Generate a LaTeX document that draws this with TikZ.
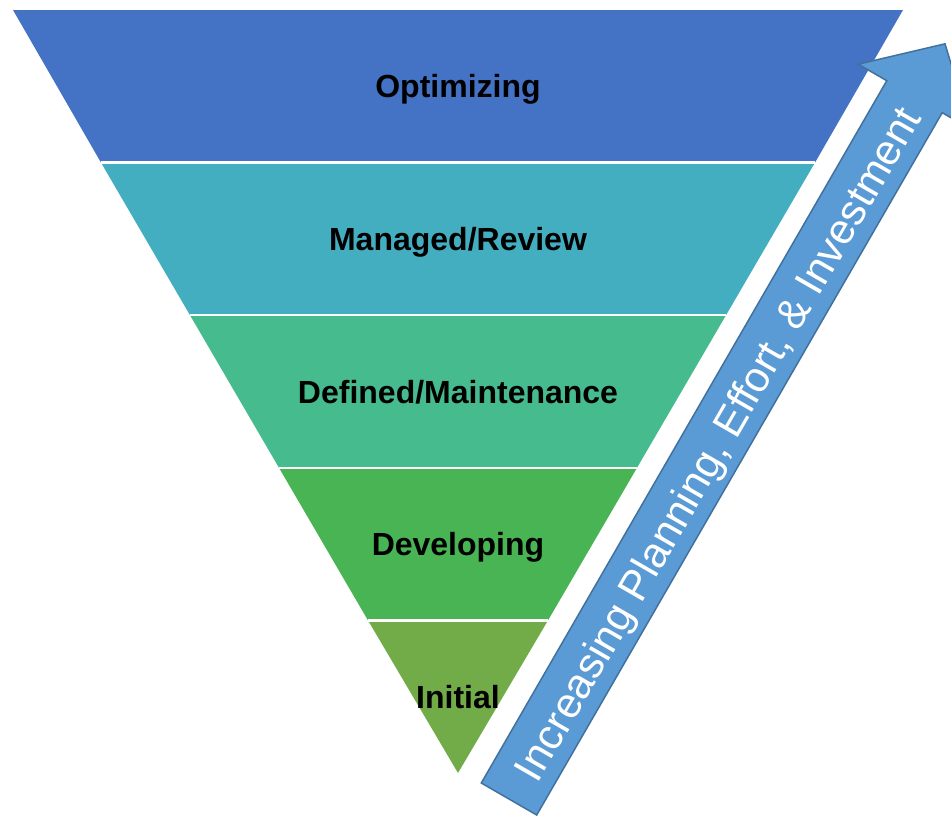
\documentclass[tikz,border=0pt]{standalone}
\usepackage{fontspec}
\setmainfont{Liberation Sans}
\definecolor{cOpt}{HTML}{4472C4}
\definecolor{cMan}{HTML}{44AEC1}
\definecolor{cDef}{HTML}{45BB8E}
\definecolor{cDev}{HTML}{48B453}
\definecolor{cIni}{HTML}{72AC48}
\definecolor{cArr}{HTML}{5B9BD5}
\definecolor{cArrB}{HTML}{41719C}
\tikzset{
  lab/.style={font=\bfseries\fontsize{32}{38}\selectfont, text=black, inner sep=0pt, anchor=base},
  arr/.style={fill=cArr, draw=cArrB, line width=1.5pt, line join=miter},
  arrtext/.style={font=\fontsize{42.5}{48}\selectfont, text=white, inner sep=0pt, rotate=60, anchor=base}
}
\begin{document}
\begin{tikzpicture}[x=1pt,y=-1pt]
\useasboundingbox (0,0) rectangle (951,815);
\clip (0,0) rectangle (951,815);
% bands
\coordinate (L0) at (13,10);   \coordinate (R0) at (903,10);
\coordinate (L1) at (101.0,162.6); \coordinate (R1) at (815.0,162.6);
\coordinate (L2) at (190.0,315.2); \coordinate (R2) at (726.0,315.2);
\coordinate (L3) at (279.0,467.8); \coordinate (R3) at (637.0,467.8);
\coordinate (L4) at (368.0,620.4); \coordinate (R4) at (548.0,620.4);
\coordinate (apex) at (458,773);
\fill[cOpt] (L0) -- (R0) -- (R1) -- (L1) -- cycle;
\fill[cMan] (L1) -- (R1) -- (R2) -- (L2) -- cycle;
\fill[cDef] (L2) -- (R2) -- (R3) -- (L3) -- cycle;
\fill[cDev] (L3) -- (R3) -- (R4) -- (L4) -- cycle;
\fill[cIni] (L4) -- (R4) -- (apex) -- cycle;
\draw[white, line width=2.5pt] (L1) -- (R1) (L2) -- (R2) (L3) -- (R3) (L4) -- (R4);
% labels
\node[lab] (opt) at (458,97.8) {Optimizing};
\node[lab] (man) at (458,250.4) {Managed/Review};
\node[lab] (def) at (458,403.0) {Defined/Maintenance};
\node[lab] (dev) at (458,555.6) {Developing};
\node[lab] (ini) at (458,708.2) {Initial};
% arrow
\coordinate (aBL) at (481.3,783.0);
\coordinate (aBR) at (536.7,815.0);
\coordinate (aHRi) at (942.2,112.7);
\coordinate (aHRo) at (970.8,129.2);
\coordinate (aTip) at (945.0,43.8);
\coordinate (aHLo) at (858.2,64.2);
\coordinate (aHLi) at (886.8,80.7);
\draw[arr] (aBL) -- (aBR) -- (aHRi) -- (aHRo) -- (aTip) -- (aHLo) -- (aHLi) -- cycle;
\node[arrtext] (atext) at (730,451) {Increasing Planning, Effort, \& Investment};
\end{tikzpicture}
\end{document}
